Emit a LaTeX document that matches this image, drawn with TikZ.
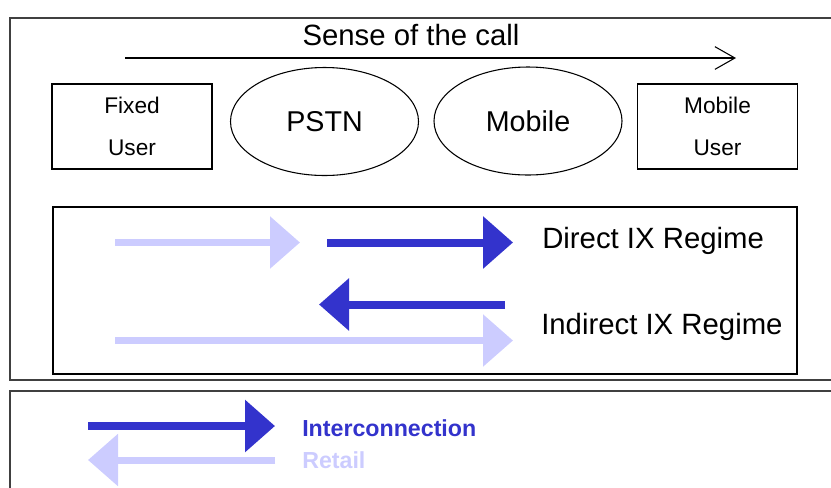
\documentclass[tikz,border=0pt]{standalone}
\usepackage{fontspec}
\setmainfont{Liberation Sans}
\usetikzlibrary{arrows.meta,shapes.geometric}
\definecolor{icblue}{HTML}{3333CC}
\definecolor{rtblue}{HTML}{CCCCFF}
\definecolor{frame}{HTML}{404040}
\begin{document}
\begin{tikzpicture}[x=0.75pt,y=-0.75pt,
  panel/.style={draw=frame,line width=1.5pt},
  userbox/.style={draw=black,line width=0.9pt,minimum width=120pt,minimum height=63.75pt,
    align=center,font=\fontsize{17}{31}\selectfont},
  netoval/.style={draw=black,line width=0.8pt,ellipse,minimum width=141pt,minimum height=81pt,
    font=\fontsize{21.5}{24}\selectfont},
  label/.style={anchor=west,inner sep=0pt,font=\fontsize{22}{24}\selectfont},
  legendtext/.style={anchor=west,inner sep=0pt,font=\bfseries\fontsize{17.4}{20}\selectfont},
  icarrow/.style={draw=icblue,line width=6pt,-{Triangle[length=22.5pt,width=38pt]}},
  rtarrow/.style={draw=rtblue,line width=5.25pt,-{Triangle[length=22.5pt,width=38pt]}}
]
\useasboundingbox (0,0) rectangle (831,487);
\clip (0,0) rectangle (831,487);

% outer panels
\draw[panel] (10,18) rectangle (845,380);
\draw[panel] (10,391) rectangle (845,500);

% direction of the call
\node[inner sep=0pt,font=\fontsize{22}{24}\selectfont] (sense) at (411,35) {Sense of the call};
\coordinate (callA) at (125,58);
\coordinate (callB) at (736,58);
\draw[line width=0.8pt,-{Straight Barb[length=15pt,width=17pt,line width=0.8pt]}] (callA) -- (callB);

% parties and networks
\node[userbox] (fixed) at (132,126.5) {Fixed\\User};
\node[netoval] (pstn) at (324.5,121.5) {PSTN};
\node[netoval] (mobile) at (528,121) {Mobile};
\node[userbox] (muser) at (717.5,126.5) {Mobile\\User};

% regimes panel
\draw[line width=1.1pt,draw=black] (53,207) rectangle (797,374);

\coordinate (r1a) at (115,242.5);
\coordinate (r1b) at (300,242.5);
\draw[rtarrow] (r1a) -- (r1b);
\coordinate (i1a) at (327,242.5);
\coordinate (i1b) at (513,242.5);
\draw[icarrow] (i1a) -- (i1b);
\node[label] (direct) at (542,241) {Direct IX Regime};

\coordinate (i2a) at (505,304.5);
\coordinate (i2b) at (319,304.5);
\draw[icarrow] (i2a) -- (i2b);
\coordinate (r2a) at (115,340.5);
\coordinate (r2b) at (513,340.5);
\draw[rtarrow] (r2a) -- (r2b);
\node[label] (indirect) at (541,327) {Indirect IX Regime};

% legend
\coordinate (l1a) at (88,426);
\coordinate (l1b) at (275,426);
\draw[icarrow] (l1a) -- (l1b);
\node[legendtext,text=icblue] (ic) at (302,428) {Interconnection};
\coordinate (l2a) at (275,460);
\coordinate (l2b) at (88,460);
\draw[rtarrow] (l2a) -- (l2b);
\node[legendtext,text=rtblue] (rt) at (302,460) {Retail};
\end{tikzpicture}
\end{document}
